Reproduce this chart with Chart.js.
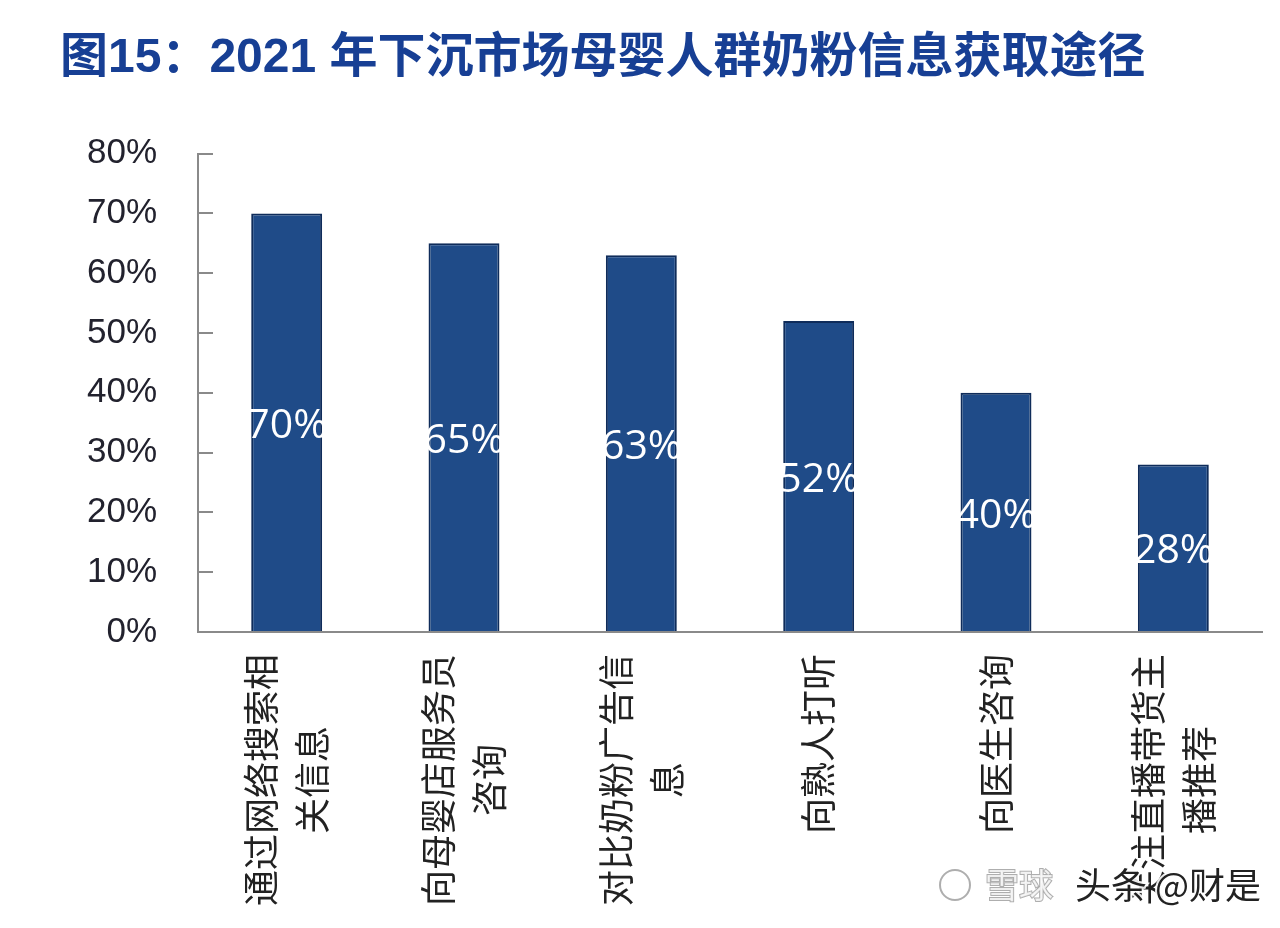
<!DOCTYPE html>
<html>
<head>
<meta charset="utf-8">
<script src="https://cdn.jsdelivr.net/npm/chart.js@4.4.0/dist/chart.umd.min.js"></script>
<style>
  html, body { margin: 0; padding: 0; background: #fff; }
  #wrap { width: 1280px; height: 928px; position: relative; }
</style>
</head>
<body>
<div id="wrap"><canvas id="chart" width="1280" height="928"></canvas></div>
<script>
const categories = [
  ["通过网络搜索相", "关信息"],
  ["向母婴店服务员", "咨询"],
  ["对比奶粉广告信", "息"],
  ["向熟人打听"],
  ["向医生咨询"],
  ["关注直播带货主", "播推荐"]
];
const shares = [70, 65, 63, 52, 40, 28];
const yTicks = [0, 10, 20, 30, 40, 50, 60, 70, 80];

const CJK = '"Noto Sans CJK SC", "Noto Sans", sans-serif';

// vertical category labels, lines centred on each other
const xLabels = {
  id: 'xLabels',
  afterDraw(chart) {
    const ctx = chart.ctx;
    const xs = chart.scales.x;
    const top = chart.chartArea.bottom + 22;
    ctx.save();
    ctx.font = '36px ' + CJK;
    ctx.fillStyle = '#222';
    ctx.textAlign = 'center';
    ctx.textBaseline = 'middle';
    categories.forEach((lines, i) => {
      const x = xs.getPixelForValue(i);
      const w = Math.max(...lines.map(l => ctx.measureText(l).width));
      ctx.save();
      ctx.translate(x, top);
      ctx.rotate(-Math.PI / 2);
      lines.forEach((l, j) => {
        ctx.fillText(l, -w / 2, (j - (lines.length - 1) / 2) * 51);
      });
      ctx.restore();
    });
    ctx.restore();
  }
};

// white value labels in the middle of each bar
const barLabels = {
  id: 'barLabels',
  afterDatasetsDraw(chart) {
    const ctx = chart.ctx;
    const meta = chart.getDatasetMeta(0);
    ctx.save();
    ctx.font = '41px "Open Sans", sans-serif';
    ctx.fillStyle = '#fff';
    ctx.textAlign = 'center';
    ctx.textBaseline = 'middle';
    meta.data.forEach((bar, i) => {
      ctx.fillText(shares[i] + '%', bar.x, (bar.y + bar.base) / 2 + 4);
    });
    ctx.restore();
  }
};

// watermark
const mark = {
  id: 'mark',
  afterDraw(chart) {
    const ctx = chart.ctx;
    ctx.save();
    ctx.textBaseline = 'middle';
    ctx.font = '34px ' + CJK;
    ctx.lineWidth = 2;
    ctx.strokeStyle = 'rgba(120,120,120,0.6)';
    ctx.fillStyle = 'rgba(255,255,255,0.8)';
    ctx.strokeText('雪球', 985, 885);
    ctx.fillText('雪球', 985, 885);
    ctx.beginPath();
    ctx.arc(955, 885, 15, 0, Math.PI * 2);
    ctx.stroke();
    ctx.font = '36px ' + CJK;
    ctx.lineWidth = 4;
    ctx.strokeStyle = 'rgba(255,255,255,0.9)';
    ctx.strokeText('头条 @财是', 1075, 885);
    ctx.fillStyle = '#222';
    ctx.fillText('头条 @财是', 1075, 885);
    ctx.restore();
  }
};

new Chart(document.getElementById('chart'), {
  type: 'bar',
  data: {
    labels: categories,
    datasets: [{
      data: shares,
      backgroundColor: '#1f4b88',
      borderColor: '#0f2c5a',
      borderWidth: 2,
      borderSkipped: 'bottom',
      barPercentage: 0.4,
      categoryPercentage: 1
    }]
  },
  options: {
    responsive: false,
    animation: false,
    layout: { padding: { left: 60, right: 18, top: 0, bottom: 288 } },
    plugins: {
      legend: { display: false },
      tooltip: { enabled: false },
      title: {
        display: true,
        text: '图15：2021 年下沉市场母婴人群奶粉信息获取途径',
        align: 'start',
        color: '#173f94',
        font: { family: '"Liberation Sans", ' + CJK, size: 48, weight: 'bold' },
        padding: { top: 30, bottom: 66 }
      }
    },
    scales: {
      x: {
        grid: { display: false },
        border: { color: '#8a8a8a', width: 2 },
        ticks: { display: false }
      },
      y: {
        min: 0,
        max: 80,
        afterBuildTicks: s => { s.ticks = yTicks.map(v => ({ value: v })); },
        afterFit: s => { s.width = 138; },
        grid: { drawOnChartArea: false, tickLength: -15, color: '#8a8a8a', lineWidth: 2 },
        border: { color: '#8a8a8a', width: 2 },
        ticks: {
          padding: 56,
          color: '#22222e',
          font: { family: '"Liberation Sans", Arial, sans-serif', size: 35 },
          callback: v => v + '%'
        }
      }
    }
  },
  plugins: [barLabels, xLabels, mark]
});
</script>
</body>
</html>
